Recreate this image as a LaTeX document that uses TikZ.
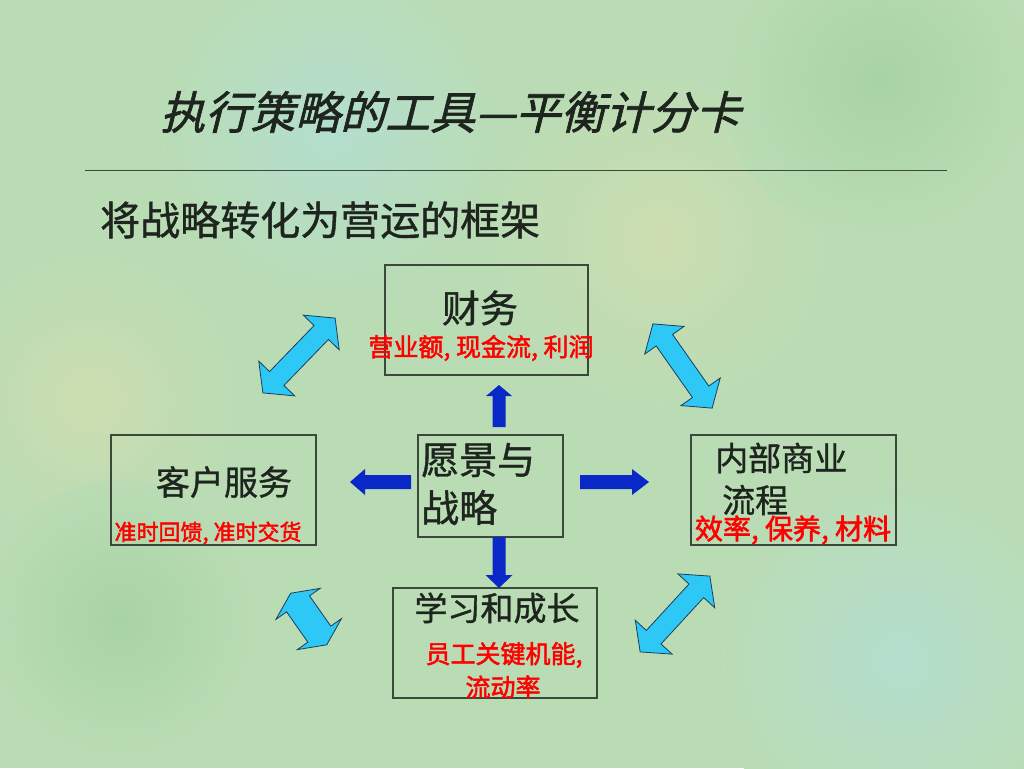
\documentclass[tikz,border=0pt]{standalone}
\usepackage{fontspec}
\newfontfamily\cjk[FakeBold=1]{Noto Sans CJK SC}
\newfontfamily\cjkbold[FakeBold=2]{Noto Sans CJK SC}
\newfontfamily\cjkslant[FakeSlant=0.25,FakeBold=1.5]{Noto Sans CJK SC}

\definecolor{bggreen}{RGB}{186,220,180}
\definecolor{bgdark}{RGB}{168,211,166}
\definecolor{bgyellow}{RGB}{204,221,176}
\definecolor{bgteal}{RGB}{180,222,206}
\definecolor{boxline}{RGB}{60,72,60}
\definecolor{inktext}{RGB}{30,36,30}
\definecolor{arrowblue}{RGB}{10,40,200}
\definecolor{arrowcyan}{RGB}{45,200,245}
\definecolor{arrowedge}{RGB}{30,60,90}

%% double block arrow: centre, angle, length, shaft half width, head half width, head length
\newcommand{\dblarrow}[6]{%
  \begin{scope}[shift={#1}, rotate=#2]
    \filldraw[cyanarrow] ({-#3/2},0) -- ({-#3/2+#6},#5) -- ({-#3/2+#6},#4)
      -- ({#3/2-#6},#4) -- ({#3/2-#6},#5) -- ({#3/2},0) -- ({#3/2-#6},-#5)
      -- ({#3/2-#6},-#4) -- ({-#3/2+#6},-#4) -- ({-#3/2+#6},-#5) -- cycle;
  \end{scope}}

%% single block arrow: start, angle, length, shaft half width, head half width, head length
\newcommand{\blkarrow}[6]{%
  \begin{scope}[shift={#1}, rotate=#2]
    \fill[bluearrow] (0,-#4) -- ({#3-#6},-#4) -- ({#3-#6},-#5) -- (#3,0)
      -- ({#3-#6},#5) -- ({#3-#6},#4) -- (0,#4) -- cycle;
  \end{scope}}

\begin{document}
\begin{tikzpicture}[x=1pt, y=-1pt,
  box/.style={draw=boxline, line width=1.2pt, inner sep=0pt},
  label/.style={inner sep=0pt, text=inktext},
  redlabel/.style={inner sep=0pt, text=red},
  cyanarrow/.style={fill=arrowcyan, draw=arrowedge, line width=0.8pt, line join=miter},
  bluearrow/.style={fill=arrowblue}]

  %% background
  \useasboundingbox (0,0) rectangle (1024,768);
  \clip (0,0) rectangle (1024,768);
  \fill[bggreen] (0,0) rectangle (1024,768);
  \shade[inner color=bgyellow, outer color=bggreen] (660,240) circle (170);
  \shade[inner color=bgyellow, outer color=bggreen] (90,400) circle (150);
  \shade[inner color=bgteal, outer color=bggreen] (330,130) circle (180);
  \shade[inner color=bgteal, outer color=bggreen] (900,660) circle (190);
  \shade[inner color=bgdark, outer color=bggreen] (120,620) circle (140);
  \shade[inner color=bgdark, outer color=bggreen] (880,80) circle (160);

  %% title
  \node[label, anchor=west, font=\cjkslant\fontsize{45}{45}\selectfont] (title) at (160,112) {执行策略的工具—平衡计分卡};
  \draw[boxline, line width=0.8pt] (85,170) -- (947,170);
  \node[label, anchor=west, font=\cjk\fontsize{40}{40}\selectfont] (subtitle) at (100,220) {将战略转化为营运的框架};

  %% boxes
  \node[box, minimum width=203, minimum height=110] (fin) at (486.5,320) {};
  \node[box, minimum width=145, minimum height=102] (vis) at (490.5,486) {};
  \node[box, minimum width=205, minimum height=110] (cust) at (213.5,490) {};
  \node[box, minimum width=205, minimum height=110] (proc) at (793.5,490) {};
  \node[box, minimum width=204, minimum height=110] (learn) at (495,643) {};

  %% box texts
  \node[label, font=\cjk\fontsize{38}{38}\selectfont] (finname) at (480,308) {财务};
  \node[redlabel, font=\cjkbold\fontsize{25}{25}\selectfont] (finitems) at (481,348) {营业额, 现金流, 利润};
  \node[label, anchor=west, align=left, font=\cjk\fontsize{38}{48}\selectfont] (visname) at (421,484) {愿景与\\战略};
  \node[label, font=\cjk\fontsize{34}{34}\selectfont] (custname) at (224,482) {客户服务};
  \node[redlabel, font=\cjkbold\fontsize{22}{22}\selectfont] (custitems) at (208,533) {准时回馈, 准时交货};
  \node[label, anchor=west, font=\cjk\fontsize{33}{33}\selectfont] (procname) at (715,458) {内部商业};
  \node[label, anchor=west, font=\cjk\fontsize{33}{33}\selectfont] (procname2) at (722,500) {流程};
  \node[redlabel, font=\cjkbold\fontsize{28}{28}\selectfont] (procitems) at (793,530) {效率, 保养, 材料};
  \node[label, font=\cjk\fontsize{33}{33}\selectfont] (learnname) at (497,608) {学习和成长};
  \node[redlabel, font=\cjkbold\fontsize{25}{25}\selectfont] (learnitems) at (504,655) {员工关键机能,};
  \node[redlabel, font=\cjkbold\fontsize{25}{25}\selectfont] (learnitems2) at (503,687) {流动率};

  %% blue arrows out of the centre
  \blkarrow{(499,427)}{90}{42}{6.5}{13}{11}
  \blkarrow{(411,482)}{180}{61}{7}{13}{15}
  \blkarrow{(580,482)}{0}{69}{7}{13}{17}
  \blkarrow{(499,537)}{-90}{51}{6.5}{13.5}{13}

  %% cyan double arrows
  \dblarrow{(299,355.5)}{46}{104}{10}{25}{20}
  \dblarrow{(682.5,366)}{-54.9}{103}{10}{24}{20}
  \dblarrow{(675,614)}{47.4}{103}{10}{25}{20}
  \dblarrow{(308.7,619)}{-55}{63}{14}{27}{13}

\end{tikzpicture}
\end{document}
